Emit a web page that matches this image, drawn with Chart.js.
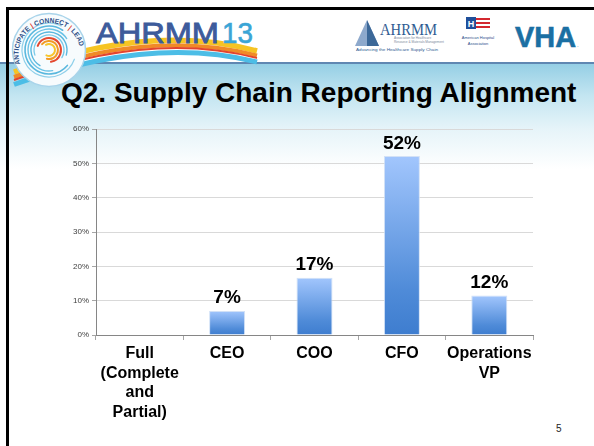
<!DOCTYPE html>
<html>
<head>
<meta charset="utf-8">
<script src="https://cdn.jsdelivr.net/npm/chart.js@4.4.0/dist/chart.umd.min.js"></script>
<style>
html,body{margin:0;padding:0;background:#fff;}
#slide{position:relative;width:594px;height:446px;overflow:hidden;background:#fff;font-family:"Liberation Sans",Arial,sans-serif;}
#band{position:absolute;left:0;top:64px;width:594px;height:105px;background:linear-gradient(to bottom,#95cfe5 0%,#c3e5f1 30%,#e6f4f9 62%,#ffffff 100%);}
#rule{position:absolute;left:0;top:62px;width:594px;height:2px;background:#5f87b2;}
#frameTop{position:absolute;left:6px;top:7px;width:588px;height:3px;background:#000;}
#frameLeft{position:absolute;left:6px;top:7px;width:3px;height:439px;background:#000;}
#title{position:absolute;left:61px;top:79px;font-weight:bold;font-size:28px;line-height:28px;white-space:nowrap;color:#000;}
#page{position:absolute;left:556px;top:423px;font-size:10px;color:#222;}
#logos{position:absolute;left:0;top:0;}
#chartWrap{position:absolute;left:0;top:0;width:594px;height:446px;}
</style>
</head>
<body>
<div id="slide">
  <div id="band"></div>
  <div id="rule"></div>
  <svg id="logos" width="594" height="100" viewBox="0 0 594 100">
    <!-- swoosh -->
    <path d="M 14 72 Q 150 22 257 51" fill="none" stroke="#f6c423" stroke-width="5.5"/>
    <path d="M 14 77 Q 150 27 257 55.5" fill="none" stroke="#f08a27" stroke-width="4"/>
    <path d="M 14 80 Q 150 30 257 58" fill="none" stroke="#e2442e" stroke-width="2"/>
    <path d="M 14 84.5 Q 150 35 257 62" fill="none" stroke="#4cbde6" stroke-width="5"/>
    <!-- circle logo -->
    <circle cx="49" cy="50" r="36.5" fill="#f7fbfd" stroke="#a9d4ea" stroke-width="1.5"/>
    <g fill="none" stroke-linecap="round">
      <circle cx="49" cy="50" r="27" stroke="#8fd0ea" stroke-width="1.2" stroke-dasharray="130 40" transform="rotate(20 49 50)"/>
      <circle cx="49" cy="50" r="24" stroke="#5ab8de" stroke-width="1.6" stroke-dasharray="110 40" transform="rotate(40 49 50)"/>
      <circle cx="49" cy="50" r="21" stroke="#6cc3e6" stroke-width="1.4" stroke-dasharray="90 42" transform="rotate(80 49 50)"/>
      <circle cx="49" cy="50" r="18" stroke="#5ab8de" stroke-width="1.4" stroke-dasharray="80 33" transform="rotate(120 49 50)"/>
      <circle cx="49" cy="50" r="15" stroke="#79c9e8" stroke-width="1.3" stroke-dasharray="60 34" transform="rotate(160 49 50)"/>
      <circle cx="49" cy="50" r="12" stroke="#e4482f" stroke-width="2" stroke-dasharray="50 26" transform="rotate(200 49 50)"/>
      <circle cx="49" cy="50" r="9" stroke="#f29a25" stroke-width="2" stroke-dasharray="38 19" transform="rotate(220 49 50)"/>
      <circle cx="49" cy="50" r="6" stroke="#f7c52b" stroke-width="2" stroke-dasharray="24 14" transform="rotate(240 49 50)"/>
    </g>
    <defs><path id="arcText" d="M 20.3 64 A 31 31 0 1 1 79.9 47.3"/></defs>
    <text font-family="Liberation Sans, Arial, sans-serif" font-weight="bold" font-size="7" fill="#2c4e86">
      <textPath href="#arcText" textLength="100" lengthAdjust="spacingAndGlyphs">ANTICIPATE<tspan fill="#e23a2a"> | </tspan>CONNECT<tspan fill="#e23a2a"> | </tspan>LEAD</textPath>
    </text>
    <!-- AHRMM13 -->
    <text x="96" y="43" font-family="Liberation Sans, Arial, sans-serif" font-size="30" fill="#3d5b9b" stroke="#3d5b9b" stroke-width="0.9" textLength="123" lengthAdjust="spacingAndGlyphs">AHRMM</text>
    <text x="222" y="43" font-family="Liberation Sans, Arial, sans-serif" font-size="30" fill="#3aa5d6" stroke="#3aa5d6" stroke-width="0.6" textLength="31" lengthAdjust="spacingAndGlyphs">13</text>
    <!-- AHRMM small logo -->
    <polygon points="367,20 355,46 379,46" fill="#8ea9cc"/>
    <polygon points="367,20 367,46 379,46" fill="#3c6898"/>
    <text x="380" y="35" font-family="Liberation Serif, serif" font-size="17" fill="#2f5b92" textLength="57" lengthAdjust="spacingAndGlyphs">AHRMM</text>
    <text x="394" y="39" font-family="Liberation Sans, Arial, sans-serif" font-size="3.2" fill="#7a8a9c">Association for Healthcare</text>
    <text x="394" y="42.5" font-family="Liberation Sans, Arial, sans-serif" font-size="3.2" fill="#7a8a9c">Resource &amp; Materials Management</text>
    <text x="356" y="50.5" font-family="Liberation Sans, Arial, sans-serif" font-size="3.6" fill="#2f5b92" textLength="82" lengthAdjust="spacingAndGlyphs">Advancing the Healthcare Supply Chain</text>
    <!-- AHA logo -->
    <rect x="466" y="17" width="10" height="12" fill="#1f4f9a"/>
    <text x="471" y="27" text-anchor="middle" font-family="Liberation Sans, Arial, sans-serif" font-weight="bold" font-size="9" fill="#fff">H</text>
    <rect x="476" y="18" width="14" height="2" fill="#d3282f"/>
    <rect x="476" y="22" width="14" height="2" fill="#d3282f"/>
    <rect x="476" y="26" width="14" height="2" fill="#d3282f"/>
    <text x="478" y="39" text-anchor="middle" font-family="Liberation Sans, Arial, sans-serif" font-size="4" fill="#2c4e8a">American Hospital</text>
    <text x="478" y="45" text-anchor="middle" font-family="Liberation Sans, Arial, sans-serif" font-size="4" fill="#2c4e8a">Association</text>
    <!-- VHA -->
    <text x="515" y="47" font-family="Liberation Sans, Arial, sans-serif" font-weight="bold" font-size="30" fill="#1b6fa3" stroke="#1b6fa3" stroke-width="0.6" textLength="61" lengthAdjust="spacingAndGlyphs">VHA</text>
    <text x="577" y="47" font-family="Liberation Sans, Arial, sans-serif" font-size="6" fill="#1b6fa3">.</text>
  </svg>
  <div id="frameTop"></div>
  <div id="frameLeft"></div>
  <div id="title">Q2. Supply Chain Reporting Alignment</div>
  <div id="page">5</div>
  <div id="chartWrap"><canvas id="chart"></canvas></div>
</div>
<script>
// ---- data ----
const categories = [
  ["Full", "(Complete", "and", "Partial)"],
  "CEO",
  "COO",
  "CFO",
  ["Operations", "VP"]
];
const shares = [0, 7, 16.7, 52.1, 11.5];
const shareLabels = ["", "7%", "17%", "52%", "12%"];
const yTicks = [0, 10, 20, 30, 40, 50, 60];

const valueLabelPlugin = {
  id: 'valueLabels',
  afterDatasetsDraw(chart) {
    const ctx = chart.ctx;
    const meta = chart.getDatasetMeta(0);
    ctx.save();
    ctx.font = 'bold 19px "Liberation Sans", Arial, sans-serif';
    ctx.fillStyle = '#000';
    ctx.textAlign = 'center';
    ctx.textBaseline = 'alphabetic';
    meta.data.forEach((bar, i) => {
      if (!shareLabels[i]) return;
      ctx.fillText(shareLabels[i], bar.x, bar.y - 7.5);
    });
    ctx.restore();
  }
};

function barFill(c) {
  const chart = c.chart;
  const y = chart.scales && chart.scales.y;
  if (!chart.chartArea || !y || c.type !== 'data') return '#6a9ce3';
  const top = y.getPixelForValue(c.raw);
  const base = y.getPixelForValue(0);
  if (base - top < 1) return '#6a9ce3';
  const g = chart.ctx.createLinearGradient(0, top, 0, base);
  g.addColorStop(0, '#a2c6fd');
  g.addColorStop(0.75, '#4f8bd8');
  g.addColorStop(1, '#3e7dcf');
  return g;
}

new Chart(document.getElementById('chart'), {
  type: 'bar',
  data: {
    labels: categories,
    datasets: [{
      data: shares,
      backgroundColor: barFill,
      borderColor: 'rgba(205,222,245,0.9)',
      borderWidth: {top: 1, left: 1, right: 1, bottom: 0},
      borderSkipped: false,
      barPercentage: 1,
      categoryPercentage: 0.412
    }]
  },
  options: {
    responsive: true,
    maintainAspectRatio: false,
    animation: false,
    devicePixelRatio: 1,
    layout: { padding: { left: 0, right: 61, top: 129, bottom: 0 } },
    plugins: { legend: { display: false }, tooltip: { enabled: false }, title: { display: false } },
    scales: {
      x: {
        offset: true,
        grid: { display: true, drawOnChartArea: false, offset: true, tickLength: 5, color: '#a6a6a6', lineWidth: 1 },
        border: { display: true, color: '#868686', width: 1 },
        ticks: {
          color: '#000',
          font: { family: '"Liberation Sans", Arial, sans-serif', size: 16, weight: 'bold', lineHeight: 1.22 },
          padding: 4,
          maxRotation: 0,
          autoSkip: false
        },
        afterFit(s) { s.height = 111; }
      },
      y: {
        min: 0,
        max: 60,
        afterBuildTicks(s) { s.ticks = yTicks.map(v => ({ value: v })); },
        grid: { color: '#d9d9d9', lineWidth: 1, tickLength: 4, tickColor: '#a6a6a6' },
        border: { display: true, color: '#868686', width: 1 },
        ticks: {
          color: '#404040',
          font: { family: '"Liberation Sans", Arial, sans-serif', size: 8 },
          padding: 3,
          callback: v => v + '%'
        },
        afterFit(s) { s.width = 96; }
      }
    }
  },
  plugins: [valueLabelPlugin]
});
</script>
</body>
</html>
